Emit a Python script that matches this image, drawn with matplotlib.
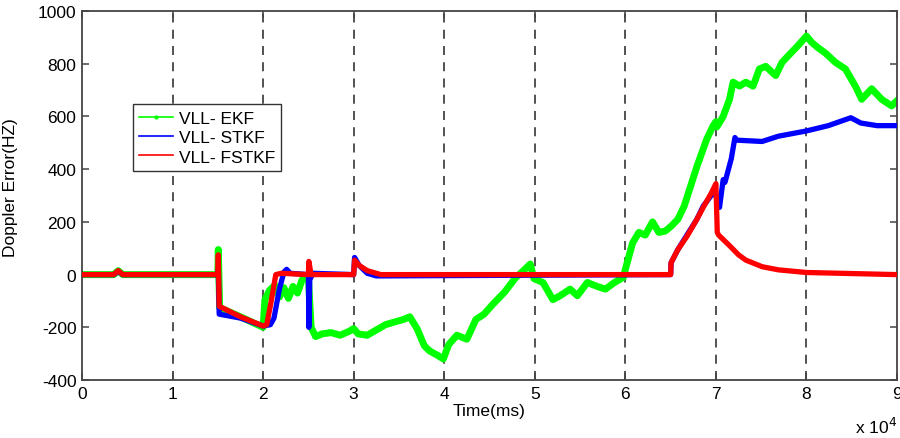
import matplotlib
matplotlib.use("Agg")
import matplotlib.pyplot as plt
from matplotlib.lines import Line2D

plt.rcParams['font.family'] = ['Liberation Sans', 'DejaVu Sans']
plt.rcParams['axes.unicode_minus'] = False

# Doppler error traces (time in ms, error in Hz)
ekf_t = [0, 3500, 4000, 4500, 15000, 15050, 15200, 17500, 20000, 20200, 20700, 21300,
         21800, 22300, 22800, 23300, 23800, 24300, 24800, 25000, 25300, 25800, 26500,
         27500, 28500, 29500, 30000, 30500, 31500, 32500, 33500, 34500, 35500, 36200,
         37000, 37800, 38400, 39200, 39900, 40500, 41400, 42500, 43500, 44400, 45300,
         46000, 46700, 47800, 48900, 49500, 49900, 50900, 52000, 52800, 53900, 54700,
         55800, 56900, 57800, 58800, 59800, 60000, 60800, 61500, 62200, 63000, 63700,
         64400, 65100, 65800, 66500, 67200, 67900, 69000, 69700, 70000, 70100, 70800,
         71500, 71900, 72600, 73300, 74100, 74800, 75500, 76600, 77300, 78400, 79100,
         80000, 80600, 81300, 82100, 83200, 84300, 85400, 86100, 87200, 88300, 89400,
         90000]
ekf_v = [0, 0, 15, 0, 0, 95, -125, -160, -200, -95, -60, -40,
         -85, -50, -90, -45, -70, -20, -5, -10, -200, -235, -225,
         -220, -230, -215, -205, -225, -230, -210, -190, -180, -170, -160,
         -205, -270, -290, -305, -320, -265, -230, -245, -170, -150, -115,
         -90, -65, -15, 20, 40, -15, -30, -95, -80, -55, -80,
         -30, -45, -55, -30, -10, 20, 120, 160, 150, 200, 160,
         165, 185, 210, 260, 335, 410, 515, 565, 580, 560, 600,
         665, 730, 715, 730, 715, 780, 790, 755, 805, 845, 870,
         905, 880, 860, 840, 805, 780, 715, 665, 705, 665, 640,
         660]

stkf_t = [0, 3500, 4000, 4500, 15000, 15050, 15150, 17500, 20000, 20800, 21200, 21800,
          22300, 22600, 23000, 25000, 25050, 25150, 25500, 30000, 30100, 30600, 31500,
          32500, 65000, 65050, 65800, 66800, 67900, 68600, 69700, 70000, 70400, 70800,
          71000, 71700, 72100, 72300, 75100, 76900, 80000, 82400, 84900, 86000, 87800,
          90000]
stkf_v = [0, 0, 12, 0, 0, 20, -150, -165, -195, -190, -165, -55,
          10, 20, 5, 0, -200, -20, 5, 0, 65, 35, 5,
          -5, 0, 45, 95, 150, 210, 260, 310, 300, 255, 360,
          350, 440, 520, 510, 505, 525, 545, 565, 595, 575, 565,
          565]

fstkf_t = [0, 3500, 4000, 4500, 15000, 15050, 15150, 17500, 20000, 20400, 20900, 21400,
           22000, 25000, 25050, 25300, 30000, 30100, 30600, 31500, 33000, 65000, 65050,
           65800, 66800, 67900, 68600, 69500, 70000, 70150, 70300, 71500, 72500, 73300,
           75100, 76900, 80000, 90000]
fstkf_v = [0, 0, 15, 0, 0, 75, -120, -160, -195, -190, -100, 0,
           5, 0, 50, 0, 0, 55, 35, 15, 0, 0, 45,
           95, 145, 210, 255, 310, 345, 160, 150, 110, 75, 55,
           30, 18, 8, 0]

labels = ['VLL- EKF', 'VLL- STKF', 'VLL- FSTKF']
x_ticks = [0, 10000, 20000, 30000, 40000, 50000, 60000, 70000, 80000, 90000]
x_tick_labels = ['0', '1', '2', '3', '4', '5', '6', '7', '8', '9']
y_ticks = [-400, -200, 0, 200, 400, 600, 800, 1000]

GREEN, BLUE, RED = '#00ff00', '#0000ff', '#ff0000'
AX_COL = '#444444'

fig = plt.figure(figsize=(9.0, 4.39), dpi=100)
ax = fig.add_axes([0.0911, 0.132, 0.9056, 0.8407])

# vertical dashed grid lines at each x tick
for xt in x_ticks[1:-1]:
    ax.axvline(xt, color=AX_COL, lw=1.3, ls=(0, (5, 4)), zorder=1)

ax.plot(ekf_t, ekf_v, color=GREEN, lw=5.0, solid_joinstyle='round', zorder=2)
ax.plot(stkf_t, stkf_v, color=BLUE, lw=3.8, solid_joinstyle='round', zorder=3)
ax.plot(fstkf_t, fstkf_v, color=RED, lw=3.8, solid_joinstyle='round', zorder=4)

ax.set_xlim(0, 90000)
ax.set_ylim(-400, 1000)
ax.set_xticks(x_ticks)
ax.set_xticklabels(x_tick_labels)
ax.set_yticks(y_ticks)
ax.tick_params(direction='in', length=5, width=1.1, color=AX_COL, labelsize=12.5,
               top=True, right=True, pad=4)
for s in ax.spines.values():
    s.set_color(AX_COL)
    s.set_linewidth(1.3)

ax.set_xlabel('Time(ms)', fontsize=12.5, labelpad=2)
ax.set_ylabel('Doppler Error(HZ)', fontsize=12.5)
ax.yaxis.set_label_coords(-0.079, 0.523)
ax.text(1.0, -0.152, 'x 10$^{4}$', transform=ax.transAxes, ha='right', va='bottom',
        fontsize=12.5)

handles = [Line2D([], [], color=GREEN, lw=1.2, marker='.', markersize=4),
           Line2D([], [], color=BLUE, lw=1.2),
           Line2D([], [], color=RED, lw=1.2)]
leg = ax.legend(handles, labels, loc='upper left', bbox_to_anchor=(0.062, 0.747),
                fontsize=12.5, frameon=True, fancybox=False, framealpha=1,
                edgecolor='#333333', handlelength=2.0, handletextpad=0.3,
                labelspacing=0.25, borderpad=0.35, borderaxespad=0)
leg.get_frame().set_linewidth(1.0)

fig.savefig('out.png', dpi=100)
